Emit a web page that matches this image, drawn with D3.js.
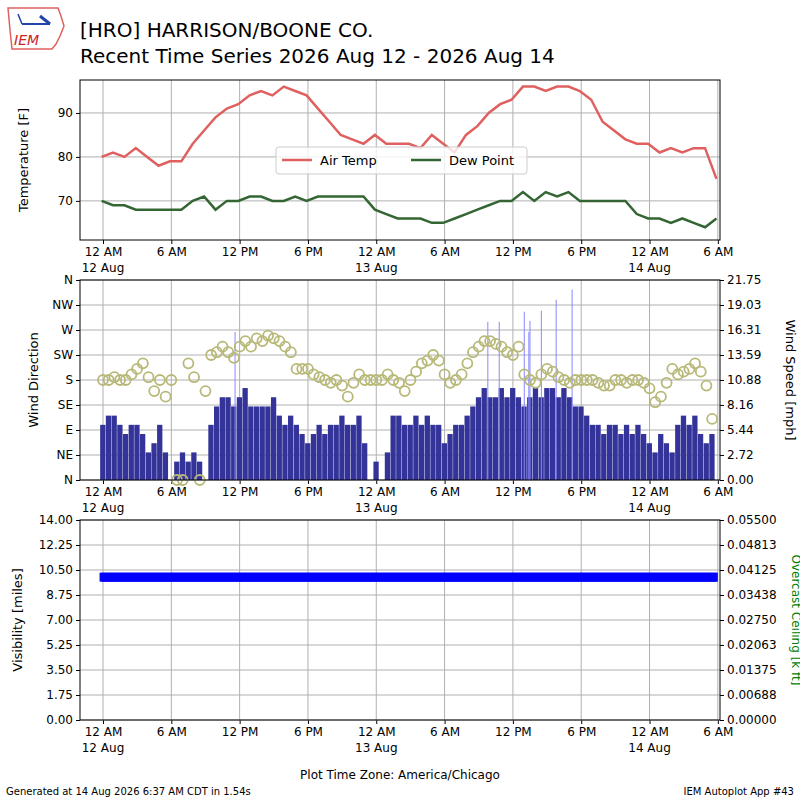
<!DOCTYPE html>
<html><head><meta charset="utf-8">
<script src="https://cdn.jsdelivr.net/npm/d3@7"></script>
<style>body{margin:0;background:#fff}text{font-family:"DejaVu Sans",sans-serif}</style>
</head><body><svg id="c" width="800" height="800"></svg>
<script>
// hourly obs at :53, starting 23:53 Aug 11 (hour offset -0.12 from 12 AM Aug 12)
const airTemp=[80,81,80,82,80,78,79,79,83,86,89,91,92,94,95,94,96,95,94,91,88,85,84,83,85,83,83,83,82,85,83,81,85,87,90,92,93,96,96,95,96,96,95,93,88,86,84,83,83,81,82,81,82,82,75];
const dewPoint=[70,69,69,68,68,68,68,68,70,71,68,70,70,71,71,70,70,71,70,71,71,71,71,71,68,67,66,66,66,65,65,66,67,68,69,70,70,72,70,72,71,72,70,70,70,70,70,67,66,66,65,66,65,64,66];
// half-hourly wind from 12 AM Aug 12
const windSpeed=[6,7,7,6, 5,6,6,5, 3,4,6,3, 0,2,3,2, 3,2,0,6, 8,9,9,8, 9,10,8,8, 8,8,9,7, 6,7,6,5, 4,5,6,5, 6,6,7,6, 6,7,4,0,
 2,0,3,7, 7,6,6,7, 6,7,6,6, 4,5,6,6, 7,8,9,10, 9,9,10,9, 10,9,8,9, 10,9,10,10, 9,10,9,8, 8,7,6,6, 5,6,6,5, 6,5,6,5, 4,3,5,4, 3,6,7,6, 7,5,4,5];
const windDir=[180,180,185,180, 180,190,200,210, 185,160,180,150, 180,0,0,210, 185,0,160,225, 230,240,230,220, 240,250,240,255, 250,260,255,250, 240,230,200,200, 200,190,185,180, 175,180,170,150, 175,190,180,180,
 180,180,190,180, 175,160,180,195, 210,215,225,215, 190,175,180,190, 210,230,240,250, 250,245,240,230, 225,240,190,180, 175,190,200,195, 185,180,175,180, 180,180,180,175, 170,170,180,180, 175,180,180,175, 165,140,150,175, 200,190,195,200, 210,195,170,110];
const gustHours=[11.6,33.8,34.8,37,37.4,37.5,38.5,39.8,41.2];
const gustSpeed=[16.1,17.2,17.2,18.3,16.1,17.3,18.4,19.6,20.7];
const visibility=Array.from({length:55},()=>10);
const dirLabels=["N","NE","E","SE","S","SW","W","NW","N"];
const speedTicks=["0.00","2.72","5.44","8.16","10.88","13.59","16.31","19.03","21.75"];
const visTicks=["0.00","1.75","3.50","5.25","7.00","8.75","10.50","12.25","14.00"];
const ceilTicks=["0.00000","0.00688","0.01375","0.02063","0.02750","0.03438","0.04125","0.04813","0.05500"];

const svg=d3.select("#c");
const t0=Date.UTC(2026,7,12,0,0);
const H=3600e3, hr=h=>new Date(t0+h*H);
const x=d3.scaleUtc().domain([hr(-2.02),hr(54.19)]).range([80,720]);
const ticks=d3.range(0,55,6).map(hr);
const fmt=d=>{const h=d.getUTCHours();return (h%12===0?12:h%12)+" "+(h<12?"AM":"PM");};
const dayFmt=d3.utcFormat("%d %b");

function frame(y0,y1){
  const g=svg.append("g");
  g.append("g").attr("transform",`translate(0,${y1})`)
   .call(d3.axisBottom(x).tickValues(ticks).tickFormat(fmt).tickSize(4))
   .call(a=>a.selectAll("text").attr("font-size",12).attr("fill","#000"))
   .call(a=>a.select(".domain").remove());
  ticks.forEach(d=>{ if(d.getUTCHours()===0) g.append("text").attr("x",x(d)).attr("y",y1+32).attr("text-anchor","middle").attr("font-size",12).text(dayFmt(d)); });
  g.selectAll("line.vg").data(ticks).enter().append("line").attr("x1",d=>x(d)).attr("x2",d=>x(d)).attr("y1",y0).attr("y2",y1).attr("stroke","#b0b0b0");
  return g;
}
function border(y0,y1){svg.append("rect").attr("x",80).attr("y",y0).attr("width",640).attr("height",y1-y0).attr("fill","none").attr("stroke","#000");}

// Panel 1
{
 const y0=80,y1=240; const g=frame(y0,y1);
 const y=d3.scaleLinear().domain([61.1,97.5]).range([y1,y0]);
 [70,80,90].forEach(v=>g.append("line").attr("x1",80).attr("x2",720).attr("y1",y(v)).attr("y2",y(v)).attr("stroke","#b0b0b0"));
 g.append("g").attr("transform","translate(80,0)").call(d3.axisLeft(y).tickValues([70,80,90]).tickSize(4)).call(a=>a.selectAll("text").attr("font-size",12)).call(a=>a.select(".domain").remove());
 const ln=d3.line().x((d,i)=>x(hr(i-0.12))).y(d=>y(d));
 g.append("path").attr("d",ln(airTemp)).attr("fill","none").attr("stroke","#e06060").attr("stroke-width",2.5);
 g.append("path").attr("d",ln(dewPoint)).attr("fill","none").attr("stroke","#336633").attr("stroke-width",2.5);
 const L=g.append("g").attr("transform","translate(276,147)");
 L.append("rect").attr("width",251).attr("height",27).attr("rx",3).attr("fill","#fff").attr("fill-opacity",0.8).attr("stroke","#ccc");
 L.append("line").attr("x1",6).attr("x2",36).attr("y1",13).attr("y2",13).attr("stroke","#e06060").attr("stroke-width",2.5);
 L.append("text").attr("x",44).attr("y",18).attr("font-size",13).text("Air Temp");
 L.append("line").attr("x1",135).attr("x2",165).attr("y1",13).attr("y2",13).attr("stroke","#336633").attr("stroke-width",2.5);
 L.append("text").attr("x",173).attr("y",18).attr("font-size",13).text("Dew Point");
 svg.append("text").attr("transform","translate(28,160) rotate(-90)").attr("text-anchor","middle").attr("font-size",13).text("Temperature [F]");
 border(y0,y1);
}
// Panel 2
{
 const y0=280,y1=480; const g=frame(y0,y1);
 const yd=d3.scaleLinear().domain([0,360]).range([y1,y0]);
 const ys=d3.scaleLinear().domain([0,21.75]).range([y1,y0]);
 d3.range(0,361,45).forEach(v=>g.append("line").attr("x1",80).attr("x2",720).attr("y1",yd(v)).attr("y2",yd(v)).attr("stroke","#b0b0b0"));
 g.append("g").attr("transform","translate(80,0)").call(d3.axisLeft(yd).tickValues(d3.range(0,361,45)).tickFormat((d,i)=>dirLabels[i]).tickSize(4)).call(a=>a.selectAll("text").attr("font-size",12)).call(a=>a.select(".domain").remove());
 g.append("g").attr("transform","translate(720,0)").call(d3.axisRight(ys).tickValues(speedTicks.map(Number)).tickFormat((d,i)=>speedTicks[i]).tickSize(4)).call(a=>a.selectAll("text").attr("font-size",12)).call(a=>a.select(".domain").remove());
 const bw=x(hr(0.5))-x(hr(0));
 g.selectAll("rect.ws").data(windSpeed).enter().append("rect").attr("x",(d,i)=>x(hr(i*0.5-0.25))).attr("width",bw-0.4)
  .attr("y",d=>ys(d)).attr("height",d=>y1-ys(d)).attr("fill","#333399");
 g.selectAll("line.gu").data(gustHours).enter().append("line").attr("x1",d=>x(hr(d))).attr("x2",d=>x(hr(d)))
  .attr("y1",y1).attr("y2",(d,i)=>ys(gustSpeed[i])).attr("stroke","#8888ff").attr("stroke-width",1);
 g.selectAll("circle").data(windDir).enter().append("circle").attr("cx",(d,i)=>x(hr(i*0.5))).attr("cy",d=>yd(d)).attr("r",5)
  .attr("fill","none").attr("stroke","#b8b878").attr("stroke-width",1.8);
 svg.append("text").attr("transform","translate(38,380) rotate(-90)").attr("text-anchor","middle").attr("font-size",13).text("Wind Direction");
 svg.append("text").attr("transform","translate(786,380) rotate(90)").attr("text-anchor","middle").attr("font-size",13).text("Wind Speed [mph]");
 border(y0,y1);
}
// Panel 3
{
 const y0=520,y1=720; const g=frame(y0,y1);
 const yv=d3.scaleLinear().domain([0,14]).range([y1,y0]);
 const yc=d3.scaleLinear().domain([0,0.055]).range([y1,y0]);
 visTicks.forEach(v=>g.append("line").attr("x1",80).attr("x2",720).attr("y1",yv(+v)).attr("y2",yv(+v)).attr("stroke","#b0b0b0"));
 g.append("g").attr("transform","translate(80,0)").call(d3.axisLeft(yv).tickValues(visTicks.map(Number)).tickFormat((d,i)=>visTicks[i]).tickSize(4)).call(a=>a.selectAll("text").attr("font-size",12)).call(a=>a.select(".domain").remove());
 g.append("g").attr("transform","translate(720,0)").call(d3.axisRight(yc).tickValues(ceilTicks.map(Number)).tickFormat((d,i)=>ceilTicks[i]).tickSize(4)).call(a=>a.selectAll("text").attr("font-size",12)).call(a=>a.select(".domain").remove());
 const ln=d3.line().x((d,i)=>x(hr(i-0.12))).y(d=>yv(d));
 g.append("path").attr("d",ln(visibility)).attr("fill","none").attr("stroke","#0000ff").attr("stroke-width",9);
 g.append("rect").attr("x",x(hr(-0.3))).attr("y",yv(10)-4.5).attr("width",x(hr(54))-x(hr(-0.3))).attr("height",9).attr("fill","#0000ff");
 svg.append("text").attr("transform","translate(22,620) rotate(-90)").attr("text-anchor","middle").attr("font-size",13).text("Visibility [miles]");
 svg.append("text").attr("transform","translate(792,620) rotate(90)").attr("text-anchor","middle").attr("font-size",12).attr("fill","green").text("Overcast Ceiling [k ft]");
 border(y0,y1);
}
// titles
svg.append("text").attr("x",80).attr("y",37).attr("font-size",20).text("[HRO] HARRISON/BOONE CO.");
svg.append("text").attr("x",80).attr("y",63).attr("font-size",20).text("Recent Time Series 2026 Aug 12 - 2026 Aug 14");
svg.append("text").attr("x",400).attr("y",779).attr("text-anchor","middle").attr("font-size",12).text("Plot Time Zone: America/Chicago");
svg.append("text").attr("x",6).attr("y",795).attr("font-size",10).text("Generated at 14 Aug 2026 6:37 AM CDT in 1.54s");
svg.append("text").attr("x",794).attr("y",795).attr("text-anchor","end").attr("font-size",10).text("IEM Autoplot App #43");
// logo
svg.append("path").attr("d","M8,8 L58,8 L61,16 L64,26 L60,36 L56,44 L52,49 L12,49 L10,30 Z").attr("fill","none").attr("stroke","#e06060").attr("stroke-width",1.5);
svg.append("line").attr("x1",22).attr("x2",50).attr("y1",24).attr("y2",24).attr("stroke","#2244aa").attr("stroke-width",2);
svg.append("line").attr("x1",18).attr("x2",22).attr("y1",14).attr("y2",24).attr("stroke","#2244aa").attr("stroke-width",1.5);
svg.append("line").attr("x1",40).attr("x2",50).attr("y1",16).attr("y2",24).attr("stroke","#2244aa").attr("stroke-width",3);
svg.append("text").attr("x",14).attr("y",45).attr("font-size",14).attr("font-style","italic").attr("font-family","Liberation Serif").attr("fill","#cc2222").text("IEM");
</script></body></html>
